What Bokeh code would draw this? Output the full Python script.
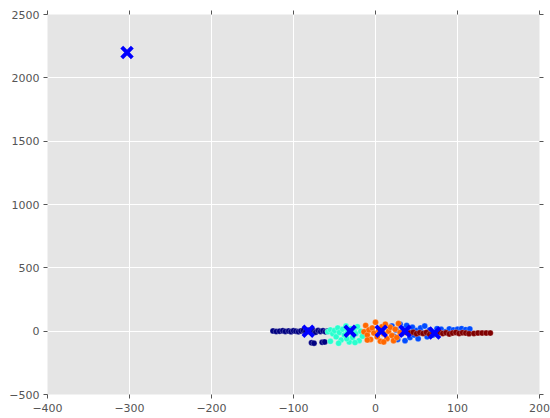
from bokeh.plotting import figure
from bokeh.models import LinearAxis, Range1d, FixedTicker
from bokeh.embed import file_html
from bokeh.resources import INLINE

# cluster 0 (navy)
c0_x = [-125, -121, -117, -113, -110, -106, -103, -100, -97, -94, -91, -88, -85, -82, -79, -76, -73, -70, -67, -64, -61, -58, -78, -75, -65, -62]
c0_y = [2, -3, 0, 4, -2, 1, -4, 3, 0, -5, 2, 6, -3, 8, -6, 4, -8, 5, -2, 3, -5, 2, -92, -95, -88, -85]
# cluster 1 (blue)
c1_x = [20, 22, 25, 27, 30, 32, 34, 36, 38, 40, 42, 45, 47, 50, 52, 55, 58, 60, 63, 66, 70, 75, 80, 85, 90, 95, 100, 105, 110, 115]
c1_y = [40, -40, 10, -65, 55, -20, 20, -75, 45, -5, -50, 30, -30, 5, -60, 25, -15, 40, -45, 10, -30, 20, 15, -5, 18, 10, 15, 20, 12, 18]
# cluster 2 (cyan)
c2_x = [-58, -55, -52, -50, -48, -46, -44, -42, -40, -38, -36, -34, -32, -30, -28, -26, -24, -22, -20, -18, -16, -55, -45, -35, -25]
c2_y = [-5, 10, -20, 5, -45, 25, -10, -70, 15, -30, 40, -5, -85, 20, -50, 5, -20, 35, -75, 0, -40, -80, -95, -60, -90]
# cluster 3 (outlier)
c3_x = [-303]
c3_y = [2200]
# cluster 4 (orange)
c4_x = [-14, -12, -10, -8, -6, -4, -2, 0, 2, 4, 6, 8, 10, 12, 14, 16, 18, 20, 22, 24, 26, 28, 30, -10, 10]
c4_y = [-5, 45, -30, 10, -65, 25, -15, 70, -45, 5, -80, 35, -20, 55, -60, 0, 30, -35, -75, 15, -50, 60, -10, -70, -85]
# cluster 5 (dark red)
c5_x = [38, 42, 46, 50, 54, 58, 62, 66, 70, 74, 78, 82, 86, 90, 94, 98, 102, 106, 110, 114, 120, 125, 130, 135, 140]
c5_y = [-10, -15, -8, -20, -12, -18, -10, -25, -15, -20, -8, -18, -12, -22, -15, -10, -18, -12, -15, -20, -18, -15, -15, -15, -15]

cent_x = [-82, -31, 7, 36, 72, -303]
cent_y = [0, 0, 0, 0, -15, 2200]

x_ticks = [-400, -300, -200, -100, 0, 100, 200]
y_ticks = [-500, 0, 500, 1000, 1500, 2000, 2500]

colors = ["#000080", "#004cff", "#29ffce", "#ceff29", "#ff6800", "#800000"]
clusters = [(c0_x, c0_y), (c1_x, c1_y), (c2_x, c2_y), (c3_x, c3_y), (c4_x, c4_y), (c5_x, c5_y)]

p = figure(width=550, height=418, output_backend="svg", toolbar_location=None,
           x_range=Range1d(-400, 200), y_range=Range1d(-500, 2500),
           min_border_left=47, min_border_right=11, min_border_top=14, min_border_bottom=24)
p.background_fill_color = "#E5E5E5"
p.border_fill_color = "white"
p.outline_line_color = None
p.xgrid.grid_line_color = "white"
p.ygrid.grid_line_color = "white"
p.xgrid.ticker = FixedTicker(ticks=x_ticks)
p.ygrid.ticker = FixedTicker(ticks=y_ticks)

def style(ax):
    ax.axis_line_color = None
    ax.major_tick_line_color = "#555555"
    ax.major_tick_out = 4
    ax.major_tick_in = 0
    ax.minor_tick_line_color = None
    ax.major_label_text_font = "DejaVu Sans"
    ax.major_label_text_font_size = "11px"
    ax.major_label_text_color = "#555555"

p.xaxis.ticker = FixedTicker(ticks=x_ticks)
p.yaxis.ticker = FixedTicker(ticks=y_ticks)
style(p.xaxis[0]); style(p.yaxis[0])
p.xaxis.major_label_standoff = 5
p.yaxis.major_label_standoff = 4
p.xaxis.major_label_overrides = {t: str(t).replace("-", "\u2212") for t in x_ticks}
p.yaxis.major_label_overrides = {t: str(t).replace("-", "\u2212") for t in y_ticks}

top = LinearAxis(ticker=FixedTicker(ticks=x_ticks))
right = LinearAxis(ticker=FixedTicker(ticks=y_ticks))
style(top); style(right)
top.major_label_overrides = {t: "" for t in x_ticks}
right.major_label_overrides = {t: "" for t in y_ticks}
top.major_label_standoff = 0
right.major_label_standoff = 0
p.add_layout(top, "above")
p.add_layout(right, "right")

for (cx, cy), col in zip(clusters, colors):
    p.scatter(cx, cy, size=6, fill_color=col, line_color="white", line_width=0.4, line_alpha=0.6)

p.scatter(cent_x, cent_y, marker="x", size=15, line_color="blue", line_width=4)

open("out.html", "w").write(file_html(p, INLINE))
